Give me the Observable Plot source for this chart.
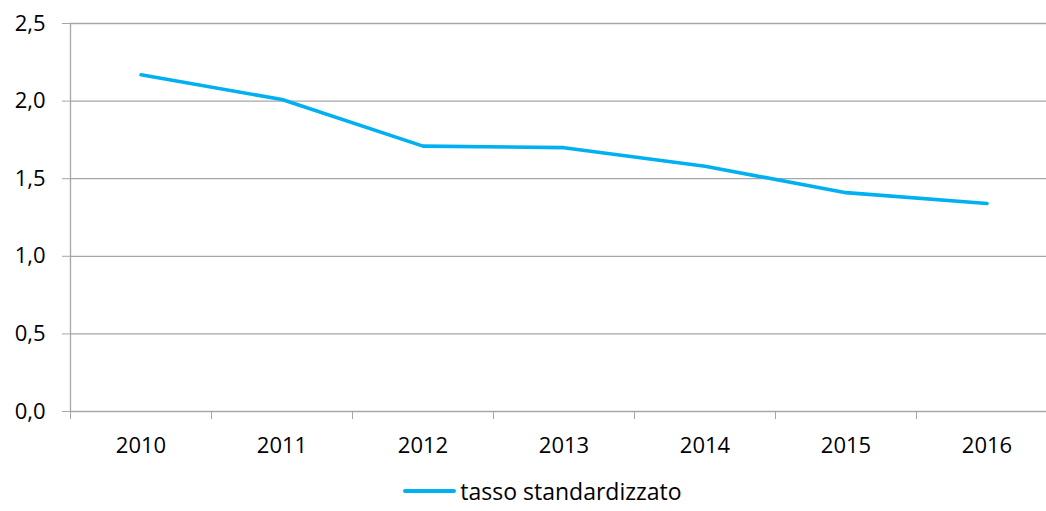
<!DOCTYPE html>
<html>
<head>
<meta charset="utf-8">
<script src="https://cdn.jsdelivr.net/npm/d3@7"></script>
<script src="https://cdn.jsdelivr.net/npm/@observablehq/plot@0.6"></script>
<style>
  body { margin: 0; background: #fff; font-family: "Open Sans", sans-serif; }
  #legend { height: 41px; display: flex; align-items: center; justify-content: center; padding-left: 39px; font-size: 23px; color: #000; }
  #legend .sw { display: inline-block; width: 53px; height: 4px; background: #00b0f0; border-radius: 2px; margin-right: 4px; }
</style>
</head>
<body>
<div id="chart"></div>
<div id="legend"><span class="sw"></span><span>tasso standardizzato</span></div>
<script>
const years = [2010, 2011, 2012, 2013, 2014, 2015, 2016];
const values = [2.17, 2.01, 1.71, 1.70, 1.58, 1.41, 1.34];
const yTicks = [0, 0.5, 1.0, 1.5, 2.0, 2.5];
const seriesName = "tasso standardizzato";

const data = years.map((y, i) => ({year: y, value: values[i]}));
const bandEdges = [years[0] - 0.5, ...years.map(y => y + 0.5)];
const grid = "#a6a6a6";

const chart = Plot.plot({
  width: 1046,
  height: 470,
  marginTop: 23,
  marginBottom: 59,
  marginLeft: 70,
  marginRight: 0,
  style: {fontFamily: "'Open Sans', sans-serif", fontSize: "22px", color: "#000", background: "#fff"},
  x: {type: "linear", domain: [years[0] - 0.5, years[years.length - 1] + 0.5], range: [70, 1057], label: null},
  y: {domain: [0, 2.5], label: null},
  marks: [
    Plot.ruleY(yTicks, {stroke: grid, strokeWidth: 1.3}),
    Plot.ruleX([bandEdges[0]], {stroke: grid, strokeWidth: 1.3}),
    Plot.axisY({ticks: yTicks, label: null, tickSize: 8, tickPadding: 17, stroke: grid, strokeOpacity: 1, tickFormat: d => d.toFixed(1).replace(".", ","), fill: "#000", fontSize: 22}),
    Plot.axisX({ticks: bandEdges, label: null, tickSize: 8, stroke: grid, strokeOpacity: 1, tickFormat: () => ""}),
    Plot.axisX({ticks: years, label: null, tickSize: 0, tickPadding: 26, tickFormat: d => String(d), fill: "#000", fontSize: 22}),
    Plot.line(data, {x: "year", y: "value", stroke: "#00b0f0", strokeWidth: 3.6, strokeLinecap: "round", strokeLinejoin: "round"})
  ]
});
document.getElementById("chart").appendChild(chart);
</script>
</body>
</html>
